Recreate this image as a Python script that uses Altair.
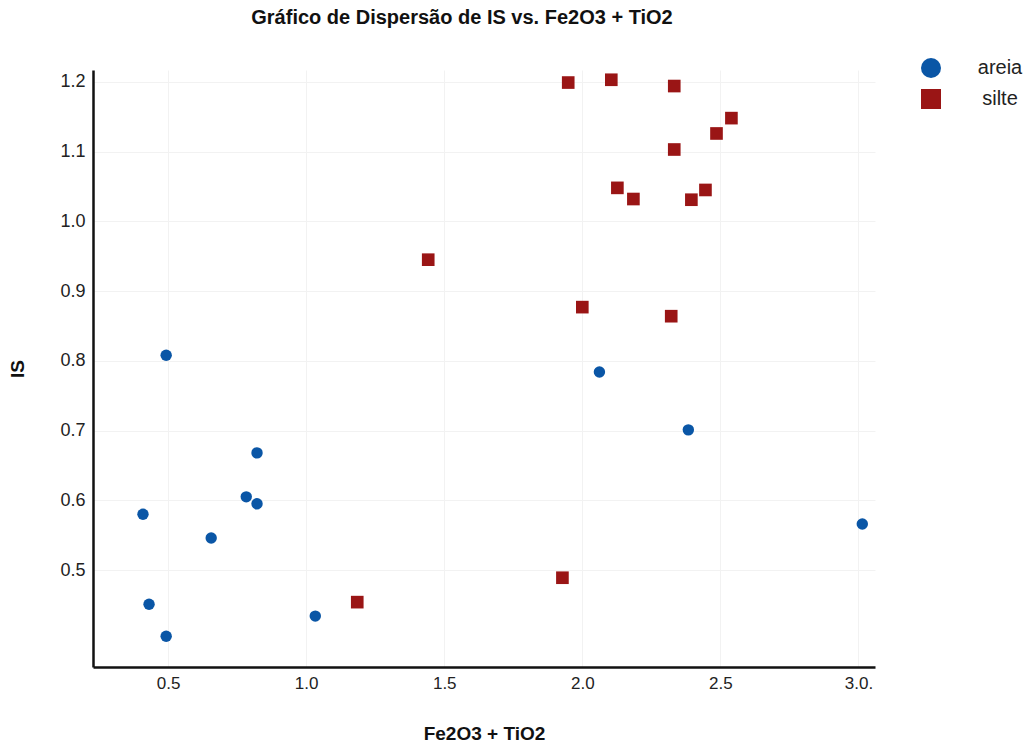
import altair as alt
import pandas as pd

areia_x = [0.493, 0.409, 0.431, 0.493, 0.656, 0.783, 0.822, 0.822, 1.033, 2.062, 2.384, 3.014]
areia_y = [0.808, 0.580, 0.451, 0.405, 0.546, 0.605, 0.595, 0.668, 0.434, 0.784, 0.701, 0.566]

silte_x = [1.949, 2.105, 2.333, 2.540, 2.486, 2.333, 2.127, 2.185, 2.395, 2.446, 2.000, 2.322, 1.442, 1.928, 1.185]
silte_y = [1.199, 1.203, 1.194, 1.148, 1.126, 1.103, 1.048, 1.032, 1.031, 1.045, 0.877, 0.864, 0.945, 0.489, 0.454]

x_ticks = [0.5, 1.0, 1.5, 2.0, 2.5, 3.0]
y_ticks = [0.5, 0.6, 0.7, 0.8, 0.9, 1.0, 1.1, 1.2]

df = pd.DataFrame({
    "x": areia_x + silte_x,
    "y": areia_y + silte_y,
    "tipo": ["areia"] * len(areia_x) + ["silte"] * len(silte_x),
})

FONT = "Liberation Sans"

chart = alt.Chart(df).mark_point(filled=True, opacity=1).encode(
    x=alt.X("x:Q", title="Fe2O3 + TiO2",
            scale=alt.Scale(domain=[0.228, 3.06], nice=False, zero=False),
            axis=alt.Axis(values=x_ticks, labelExpr="datum.value == 3 ? '3.0.' : format(datum.value, '.1f')",
                          tickSize=0, labelPadding=8, labelFontSize=17, labelColor="#222",
                          domainColor="#111", domainWidth=2.5, gridColor="#f2f2f2",
                          titleFontSize=19, titleFontWeight="bold", titlePadding=33, titleColor="#111")),
    y=alt.Y("y:Q", title="IS",
            scale=alt.Scale(domain=[0.361, 1.217], nice=False, zero=False),
            axis=alt.Axis(values=y_ticks, format=".1f", tickSize=0, labelPadding=8,
                          labelFontSize=18, labelColor="#222",
                          domainColor="#111", domainWidth=2.5, gridColor="#f2f2f2",
                          titleFontSize=19, titleFontWeight="bold", titlePadding=32, titleColor="#111")),
    color=alt.Color("tipo:N", title=None,
                    scale=alt.Scale(domain=["areia", "silte"], range=["#0a56a6", "#9a1515"]),
                    legend=alt.Legend(orient="none", legendX=827, legendY=-13, symbolSize=400,
                                      labelFontSize=20, labelColor="#222", rowPadding=5,
                                      labelAlign="center", labelOffset=58, symbolOpacity=1)),
    shape=alt.Shape("tipo:N", title=None,
                    scale=alt.Scale(domain=["areia", "silte"], range=["circle", "square"])),
    size=alt.condition("datum.tipo == 'areia'", alt.value(130), alt.value(160)),
).properties(
    width=782,
    height=597,
    padding={"left": 93, "top": 70, "right": 152, "bottom": 80},
    autosize=alt.AutoSizeParams(type="none"),
    title=alt.TitleParams("Gráfico de Dispersão de IS vs. Fe2O3 + TiO2", fontSize=20,
                          fontWeight="bold", anchor="middle", dx=-22, offset=29, color="#111"),
).configure(
    font=FONT,
).configure_view(
    stroke=None,
)

chart.save("out.html", embed_options={"renderer": "svg", "actions": False})
